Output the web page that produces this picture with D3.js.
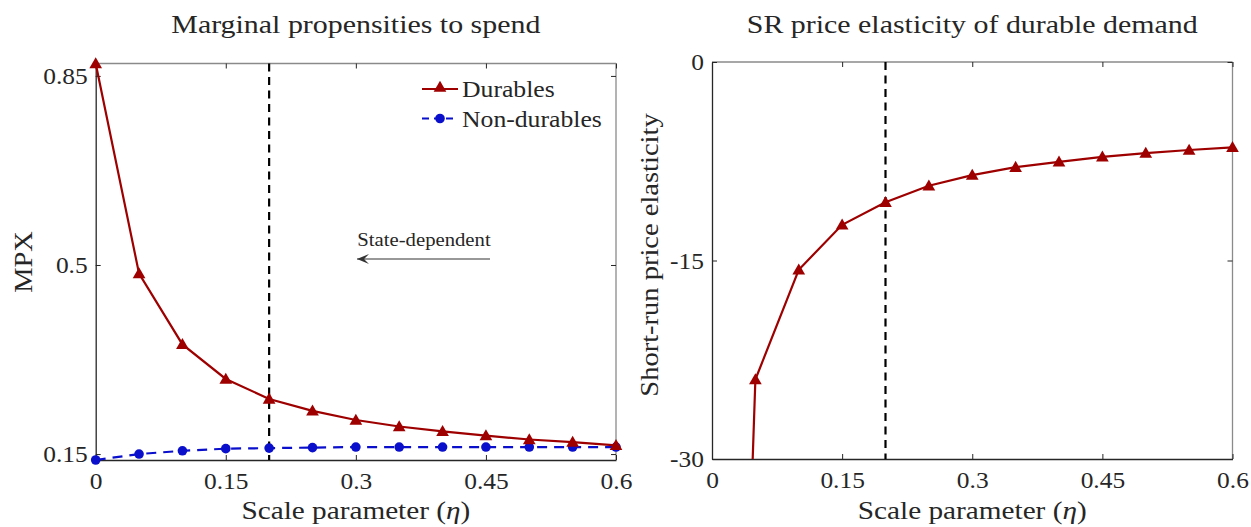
<!DOCTYPE html>
<html><head><meta charset="utf-8">
<script src="https://cdn.jsdelivr.net/npm/d3@7"></script>
<style>
body{margin:0;background:#fff;}
svg{display:block;}
text{font-family:"Liberation Serif","Times New Roman",serif;fill:#262626;}
</style></head>
<body><svg id="c" width="1251" height="527"></svg>
<script>
// ---- data ----
const eta = [0,0.05,0.1,0.15,0.2,0.25,0.3,0.35,0.4,0.45,0.5,0.55,0.6];
const mpxDurables = [0.873,0.484,0.353,0.289,0.252,0.230,0.213,0.201,0.192,0.184,0.177,0.172,0.166];
const mpxNonDurables = [0.139,0.150,0.156,0.160,0.161,0.162,0.163,0.163,0.163,0.163,0.163,0.163,0.163];
const elasticity = [-121,-24.0,-15.7,-12.3,-10.6,-9.35,-8.55,-7.95,-7.55,-7.17,-6.88,-6.65,-6.45];
const xTicks = [0,0.15,0.3,0.45,0.6];
const xTickLabels = ["0","0.15","0.3","0.45","0.6"];
const mpxTicks = [0.15,0.5,0.85];
const mpxTickLabels = ["0.15","0.5","0.85"];
const elTicks = [-30,-15,0];
const elTickLabels = ["-30","-15","0"];
const etaMarker = 0.2;
const titles = ["Marginal propensities to spend","SR price elasticity of durable demand"];
const xLabel = "Scale parameter (";
const yLabels = ["MPX","Short-run price elasticity"];
const legendLabels = ["Durables","Non-durables"];
const annotation = "State-dependent";

const RED = "#9e0000", BLUE = "#0a0fcc";
const svg = d3.select("#c");
const defs = svg.append("defs");

// widen Liberation Serif glyphs toward the Computer Modern look of the original
function stretch(sel,k){
  sel.each(function(){
    const w = this.getComputedTextLength();
    d3.select(this).attr("textLength",w*k).attr("lengthAdjust","spacingAndGlyphs");
  });
}

function panel(cfg){
  const {l,r,t,b,ydom,yt,ytl,id} = cfg;
  const x = d3.scaleLinear().domain([0,0.6]).range([l,r]);
  const y = d3.scaleLinear().domain(ydom).range([b,t]);
  const g = svg.append("g");
  defs.append("clipPath").attr("id",id).append("rect").attr("x",l).attr("y",t).attr("width",r-l).attr("height",b-t);
  g.append("line").attr("x1",l).attr("x2",r).attr("y1",t).attr("y2",t).attr("stroke","#8a8a8a").attr("stroke-width",1.3);
  g.append("line").attr("x1",r).attr("x2",r).attr("y1",t).attr("y2",b).attr("stroke","#8a8a8a").attr("stroke-width",1.3);
  const ax = d3.axisBottom(x).tickValues(xTicks).tickFormat((d,i)=>xTickLabels[i]).tickSizeInner(-5).tickSizeOuter(0).tickPadding(12);
  const gx = g.append("g").attr("transform",`translate(0,${b})`).call(ax);
  const ay = d3.axisLeft(y).tickValues(yt).tickFormat((d,i)=>ytl[i]).tickSizeInner(-5).tickSizeOuter(0).tickPadding(8);
  const gy = g.append("g").attr("transform",`translate(${l},0)`).call(ay);
  const axTop = d3.axisTop(x).tickValues(xTicks).tickFormat("").tickSizeInner(-5).tickSizeOuter(0);
  g.append("g").attr("transform",`translate(0,${t})`).call(axTop).select(".domain").remove();
  const ayR = d3.axisRight(y).tickValues(yt).tickFormat("").tickSizeInner(-5).tickSizeOuter(0);
  g.append("g").attr("transform",`translate(${r},0)`).call(ayR).select(".domain").remove();
  g.selectAll(".tick line").attr("stroke","#262626").attr("stroke-width",1);
  [gx,gy].forEach(a=>{a.select(".domain").attr("stroke","#262626").attr("stroke-width",1.3);
    a.selectAll(".tick text").attr("font-family","Liberation Serif").attr("font-size",24).attr("fill","#262626");
    stretch(a.selectAll(".tick text"),1.06);});
  gx.selectAll(".tick text").attr("dy","0.71em");
  g.append("line").attr("x1",x(etaMarker)).attr("x2",x(etaMarker)).attr("y1",t).attr("y2",b)
    .attr("stroke","#000").attr("stroke-width",2.2).attr("stroke-dasharray","8,5.5");
  return {x,y,g};
}

const P1 = panel({l:95.7,r:616,t:63.5,b:460,ydom:[0.139,0.873],yt:mpxTicks,ytl:mpxTickLabels,id:"c1"});
const P2 = panel({l:712,r:1232.5,t:62,b:459,ydom:[-30,0],yt:elTicks,ytl:elTickLabels,id:"c2"});

const tri = d3.symbol().type(d3.symbolTriangle).size(70);

function series(P,vals,color,dash,marker,clip){
  const line = d3.line().x((d,i)=>P.x(eta[i])).y(d=>P.y(d));
  const gg = P.g.append("g");
  if(clip) gg.attr("clip-path",`url(#${clip})`);
  gg.append("path").datum(vals).attr("d",line).attr("fill","none").attr("stroke",color)
    .attr("stroke-width",2.2).attr("stroke-dasharray",dash||null);
  const pts = vals.map((v,i)=>[eta[i],v]).filter(p=>p[1]>=P.y.domain()[0]);
  if(marker==="tri"){
    P.g.selectAll(null).data(pts).join("path").attr("d",tri)
      .attr("transform",d=>`translate(${P.x(d[0])},${P.y(d[1])+1})`).attr("fill",color);
  } else {
    P.g.selectAll(null).data(pts).join("circle").attr("cx",d=>P.x(d[0])).attr("cy",d=>P.y(d[1])).attr("r",4.8).attr("fill",color);
  }
}
series(P1,mpxNonDurables,BLUE,"10,7","circ");
series(P1,mpxDurables,RED,null,"tri");
series(P2,elasticity,RED,null,"tri","c2");

[[P1,0],[P2,1]].forEach(([P,i])=>{
  const [a,b] = P.x.range();
  const tt = svg.append("text").attr("x",(a+b)/2).attr("y",33).attr("text-anchor","middle").attr("font-size",26).attr("fill","#111").text(titles[i]);
  stretch(tt,1.15);
  const xl = svg.append("text").attr("x",(a+b)/2).attr("y",519).attr("text-anchor","middle").attr("font-size",25);
  xl.append("tspan").text(xLabel);
  xl.append("tspan").attr("font-style","italic").text("η");
  xl.append("tspan").text(")");
  stretch(xl,1.17);
});
const yl1 = svg.append("text").attr("transform","translate(32,262) rotate(-90)").attr("text-anchor","middle").attr("font-size",25).text(yLabels[0]);
const yl2 = svg.append("text").attr("transform","translate(658,255) rotate(-90)").attr("text-anchor","middle").attr("font-size",25).text(yLabels[1]);
stretch(yl1,1.14); stretch(yl2,1.14);

// legend
const lg = svg.append("g");
const items = [{c:RED,d:null,m:"tri"},{c:BLUE,d:"7,5",m:"circ"}];
items.forEach((it,i)=>{
  const yy = 89 + i*29.5;
  lg.append("line").attr("x1",422).attr("x2",458).attr("y1",yy).attr("y2",yy).attr("stroke",it.c).attr("stroke-width",2.2)
    .attr("stroke-dasharray",it.d);
  if(it.m==="tri") lg.append("path").attr("d",tri).attr("transform",`translate(440,${yy-1})`).attr("fill",it.c);
  else lg.append("circle").attr("cx",440).attr("cy",yy).attr("r",4.8).attr("fill",it.c);
  const lt = lg.append("text").attr("x",462).attr("y",yy+8).attr("font-size",24).attr("fill","#111").text(legendLabels[i]);
  stretch(lt,1.07);
});

// annotation
const an = svg.append("text").attr("x",424).attr("y",246).attr("text-anchor","middle").attr("font-size",18).attr("fill","#333").text(annotation);
stretch(an,1.15);
defs.append("marker").attr("id","ah").attr("viewBox","0 0 12 10").attr("refX",12).attr("refY",5)
  .attr("markerWidth",12).attr("markerHeight",10).attr("markerUnits","userSpaceOnUse").attr("orient","auto")
  .append("path").attr("d","M0,0 L12,5 L0,10 L5,5 Z").attr("fill","#333");
svg.append("line").attr("x1",490).attr("x2",357).attr("y1",259).attr("y2",259).attr("stroke","#333").attr("stroke-width",1.2)
  .attr("marker-end","url(#ah)");
</script></body></html>
